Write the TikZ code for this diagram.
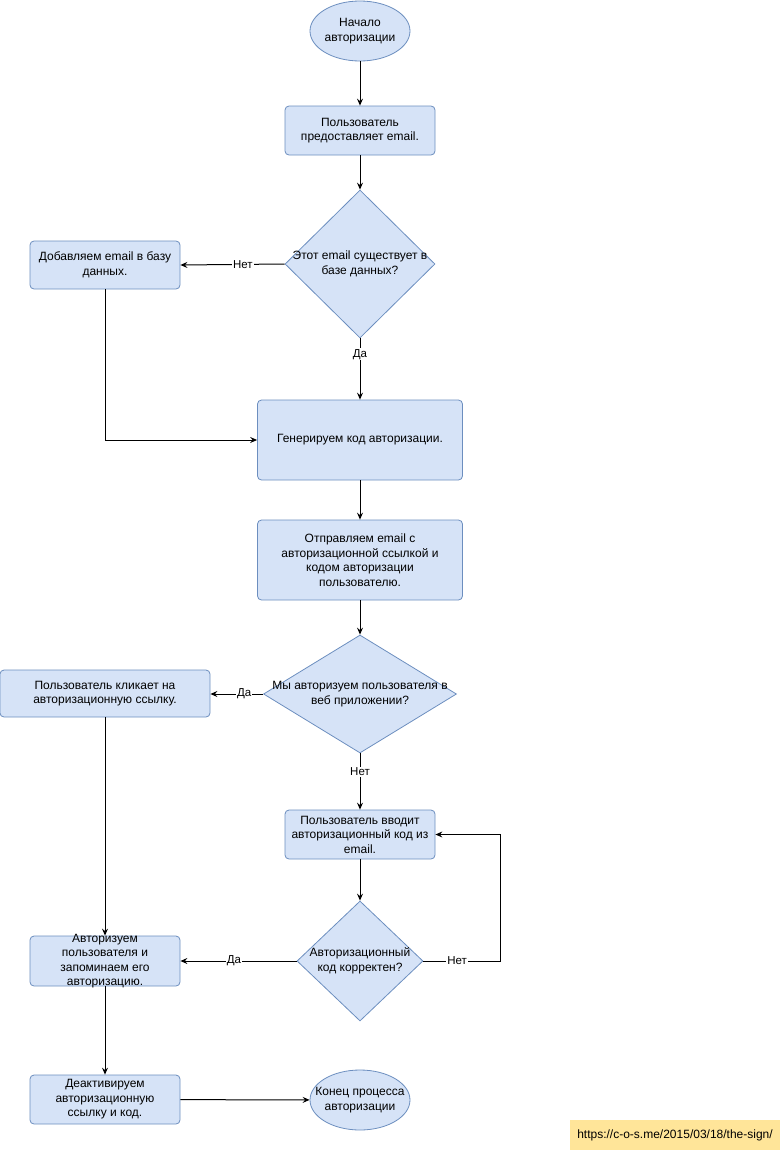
\documentclass[tikz,border=0pt]{standalone}
\usepackage{fontspec}
\setmainfont{Liberation Sans}
\usetikzlibrary{shapes.geometric,arrows.meta}

\definecolor{boxfill}{HTML}{D6E3F7}
\definecolor{boxline}{HTML}{6C8EBF}
\definecolor{notefill}{HTML}{FFE599}

\begin{document}
\begin{tikzpicture}[x=1pt, y=-1pt,
  every node/.style={font=\fontsize{12}{14.5}\selectfont, align=center},
  terminal/.style={ellipse, draw=boxline, fill=boxfill, line width=0.8pt,
    minimum width=100pt, minimum height=60pt, inner sep=0pt},
  process/.style={rectangle, rounded corners=4pt, draw=boxline, fill=boxfill,
    line width=0.8pt, minimum width=150pt, minimum height=49pt, inner sep=0pt},
  decision/.style={diamond, draw=boxline, fill=boxfill, line width=0.8pt, inner sep=0pt},
  flow/.style={-{Stealth[length=7pt,width=6pt,inset=2.5pt]}, line width=1pt},
  edgelabel/.style={fill=white, inner sep=1pt, font=\fontsize{11.5}{13}\selectfont}]

% --- Page size ---
\useasboundingbox (0,0) rectangle (782,1154);

% --- Column positions ---
\def\midX{360}
\def\leftX{105}

% --- Main column ---
\node[terminal] (start) at (\midX,31) {Начало\\авторизации};
\node[process] (provide) at (\midX,130.5) {Пользователь\\предоставляет email.};
\node[decision, minimum width=150pt, minimum height=148pt] (exists) at (\midX,264)
  [label={center:Этот email существует в\\базе данных?}] {};
\node[process, minimum width=205pt, minimum height=80pt] (generate) at (\midX,440)
  {Генерируем код авторизации.};
\node[process, minimum width=205pt, minimum height=80pt] (send) at (\midX,560)
  {Отправляем email с\\авторизационной ссылкой и\\кодом авторизации\\пользователю.};
\node[decision, minimum width=193pt, minimum height=118pt] (webapp) at (\midX,694)
  [label={center:Мы авторизуем пользователя в\\веб приложении?}] {};
\node[process] (entercode) at (\midX,834.5) {Пользователь вводит\\авторизационный код из\\email.};
\node[decision, minimum width=126pt, minimum height=120pt] (correct) at (\midX,961)
  [label={center:Авторизационный\\код корректен?}] {};
\node[terminal] (finish) at (\midX,1100)
  [label={center:Конец процесса\\авторизации}] {};

% --- Left column ---
\node[process, minimum height=48pt] (addemail) at (\leftX,265) {Добавляем email в базу\\данных.};
\node[process, minimum width=210pt, minimum height=47pt] (click) at (\leftX,693.5)
  {Пользователь кликает на\\авторизационную ссылку.};
\node[process, minimum height=50pt] (authorize) at (\leftX,961)
  [label={center:Авторизуем\\пользователя и\\запоминаем его\\авторизацию.}] {};
\node[process] (deactivate) at (\leftX,1099.5) {Деактивируем\\авторизационную\\ссылку и код.};

% --- Source note ---
\node[fill=notefill, minimum width=210pt, minimum height=30pt, inner sep=0pt] (source)
  at (675,1135) {https://c-o-s.me/2015/03/18/the-sign/};

% --- Connectors ---
\draw[flow] (start) -- (provide);
\draw[flow] (provide) -- (exists);
\draw[flow] (exists.west) -- node[edgelabel, pos=0.4] {Нет} (addemail.east);
\draw[flow] (exists.south) -- node[edgelabel, pos=0.26] {Да} (generate.north);
\draw[flow] (addemail.south) |- (generate.west);
\draw[flow] (generate) -- (send);
\draw[flow] (send) -- (webapp);
\draw[flow] (webapp.west) -- node[edgelabel, pos=0.36] {Да} (click.east |- webapp.west);
\draw[flow] (webapp.south) -- node[edgelabel, pos=0.33] {Нет} (entercode.north);
\draw[flow] (click.south) -- (authorize.north);
\draw[flow] (entercode) -- (correct);
\draw[flow] (correct.west) -- node[edgelabel, pos=0.54] {Да} (authorize.east);
\coordinate (loopback) at (500,961);
\draw[flow] (correct.east) -- node[edgelabel, pos=0.44] {Нет} (loopback) |- (entercode.east);
\draw[flow] (authorize) -- (deactivate);
\draw[flow] (deactivate) -- (finish);

\end{tikzpicture}
\end{document}
